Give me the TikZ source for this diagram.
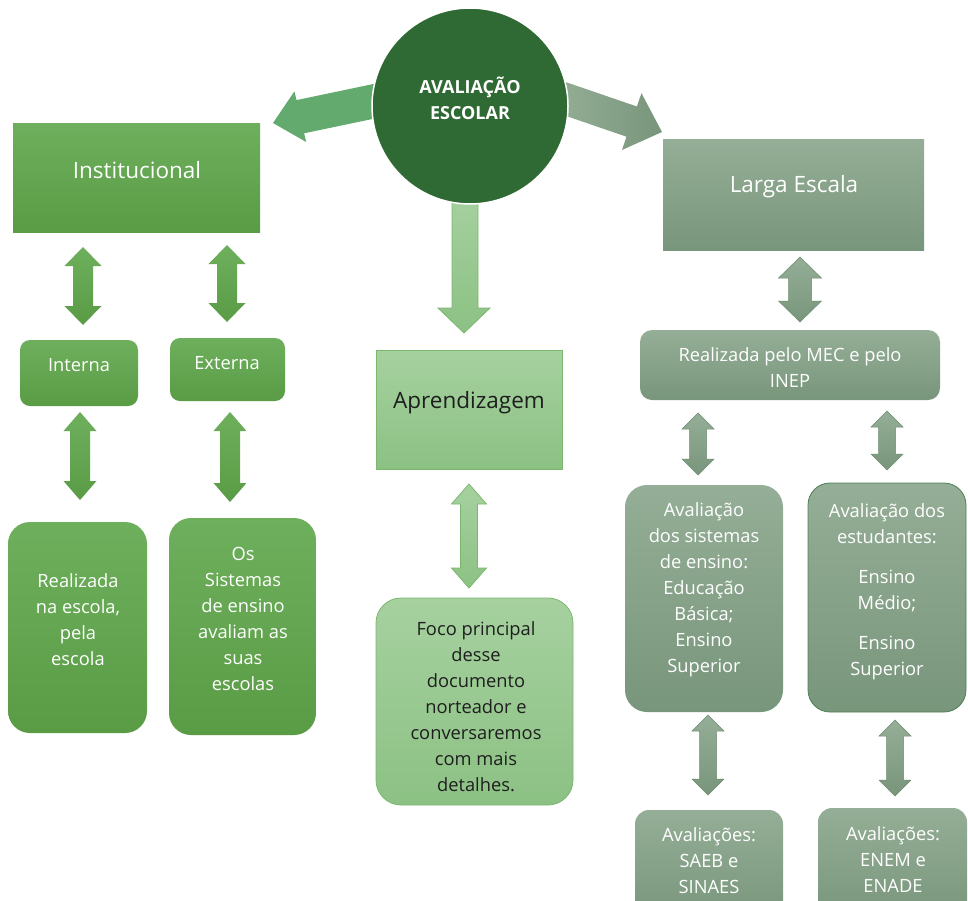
\documentclass[tikz,border=0pt]{standalone}
\usepackage{fontspec}
\setmainfont{Open Sans}
\definecolor{dkgreen}{HTML}{2F6A34}
\definecolor{gtop}{HTML}{6DAF5C}
\definecolor{gbot}{HTML}{5A9C45}
\definecolor{ltop}{HTML}{A6D19F}
\definecolor{lbot}{HTML}{8CC184}
\definecolor{lborder}{HTML}{7BB86E}
\definecolor{stop}{HTML}{95AE97}
\definecolor{sbot}{HTML}{78967B}
\definecolor{sborder}{HTML}{6E8C71}
\definecolor{leftarr}{HTML}{63AA6E}
\definecolor{txtdark}{HTML}{1E1E1E}
\newcommand\vdarrow[7]{%
  \path[#1] (#2,#3) -- (#2+#6,#3+#7) -- (#2+#5,#3+#7) -- (#2+#5,#4-#7) -- (#2+#6,#4-#7)
    -- (#2,#4) -- (#2-#6,#4-#7) -- (#2-#5,#4-#7) -- (#2-#5,#3+#7) -- (#2-#6,#3+#7) -- cycle;}
\begin{document}
\begin{tikzpicture}[x=1pt,y=-1pt,
  body/.style={font=\fontsize{18.3}{26}\selectfont, align=center, inner sep=0pt},
  big/.style={font=\fontsize{22.5}{26}\selectfont, inner sep=0pt},
  gbox/.style={rectangle, top color=gtop, bottom color=gbot, draw=none, inner sep=0pt},
  lbox/.style={rectangle, top color=ltop, bottom color=lbot, draw=lborder, line width=0.8pt, inner sep=0pt},
  sbox/.style={rectangle, top color=stop, bottom color=sbot, draw=none, inner sep=0pt},
  garr/.style={top color=gtop, bottom color=gbot, draw=none},
  sarr/.style={top color=stop, bottom color=sbot, draw=sborder, line width=0.5pt},
  larr/.style={top color=ltop, bottom color=lbot, draw=lborder, line width=0.8pt},
]
\useasboundingbox (0,0) rectangle (968,900);
\clip (0,0) rectangle (968,900);
\fill[white] (0,0) rectangle (968,900);

% big arrows from the circle
\path[fill=leftarr] (383.8,116.6) -- (304.1,133.3) -- (306.2,142.0) -- (273,123)
  -- (294.4,91.4) -- (296.5,100.1) -- (376.2,83.4) -- cycle;
\path[left color=stop, right color=sbot] (554.8,112.1) -- (626.5,136.7) -- (621.95,150.0)
  -- (662,132) -- (641.45,93.2) -- (636.9,106.5) -- (565.2,81.9) -- cycle;
\path[top color=ltop, bottom color=lbot, draw=lborder, line width=0.8pt]
  (452,190) -- (478,190) -- (478,308) -- (490,308) -- (464,333) -- (438,308) -- (452,308) -- cycle;

% central circle
\node[circle, fill=dkgreen, draw=white, line width=1.5pt, minimum size=196pt, inner sep=0pt] (root) at (470,106) {};
\node[font=\bfseries\fontsize{18}{26}\selectfont, text=white, align=center, inner sep=0pt] (roott) at (470,98) {AVALIAÇÃO\\ESCOLAR};

% main boxes
\node[gbox, minimum width=247pt, minimum height=109pt] (inst) at (136.5,177.5) {};
\node[big, text=white] (instt) at (137,170) {Institucional};
\node[sbox, minimum width=261pt, minimum height=111pt] (larga) at (793.5,194.5) {};
\node[big, text=white] (largat) at (794,187) {Larga Escala};
\node[lbox, minimum width=186pt, minimum height=119pt] (apr) at (469,409.5) {};
\node[big, text=txtdark] (aprt) at (469,403) {Aprendizagem};

% left branch
\node[gbox, rounded corners=10pt, minimum width=118pt, minimum height=66pt] (int) at (79,373) {};
\node[body, text=white] (intt) at (79,365) {Interna};
\node[gbox, rounded corners=10pt, minimum width=115pt, minimum height=63pt] (ext) at (227.5,369.5) {};
\node[body, text=white] (extt) at (227,363) {Externa};
\node[gbox, rounded corners=22pt, minimum width=139pt, minimum height=211pt] (rint) at (77.5,627.5) {};
\node[body, text=white] (rintt) at (78,620) {Realizada\\na escola,\\pela\\escola};
\node[gbox, rounded corners=22pt, minimum width=147pt, minimum height=217pt] (rext) at (242.5,626.5) {};
\node[body, text=white] (rextt) at (243,619) {Os\\Sistemas\\de ensino\\avaliam as\\suas\\escolas};

\vdarrow{garr}{83}{247}{325}{10}{18.5}{19}
\vdarrow{garr}{227}{245}{322}{10}{18.5}{19}
\vdarrow{garr}{80}{412}{500}{10}{16.5}{19}
\vdarrow{garr}{230}{412}{502}{10}{16.5}{19}

% middle branch
\vdarrow{larr}{469}{484}{588}{8.5}{17.5}{20}
\node[lbox, rounded corners=25pt, minimum width=197pt, minimum height=207pt] (foco) at (474.5,701.5) {};
\node[body, text=txtdark] (focot) at (476,707) {Foco principal\\desse\\documento\\norteador e\\conversaremos\\com mais\\detalhes.};

% right branch
\vdarrow{sarr}{800}{257}{322}{11.5}{21.5}{21}
\node[sbox, rounded corners=12pt, minimum width=300pt, minimum height=70pt] (mec) at (790,365) {};
\node[body, text=white] (mect) at (790,368) {Realizada pelo MEC e pelo\\INEP};
\vdarrow{sarr}{698}{413}{475}{8.5}{16}{16}
\vdarrow{sarr}{887}{411}{470}{8.5}{16}{16}
\node[sbox, rounded corners=22pt, minimum width=158pt, minimum height=227pt] (asis) at (704,598.5) {};
\node[body, text=white] (asist) at (704,590) {Avaliação\\dos sistemas\\de ensino:\\Educação\\Básica;\\Ensino\\Superior};
\node[sbox, draw=dkgreen!85, line width=0.8pt, rounded corners=22pt, minimum width=158pt, minimum height=229pt] (aest) at (887,597.5) {};
\node[body, text=white] (aestt) at (887,592) {Avaliação dos\\estudantes:\\[14pt]Ensino\\Médio;\\[14pt]Ensino\\Superior};
\vdarrow{sarr}{708}{715}{795}{8.5}{16}{16}
\vdarrow{sarr}{895}{720}{796}{8.5}{16}{16}
\node[sbox, rounded corners=14pt, minimum width=148pt, minimum height=110pt] (saeb) at (709,865) {};
\node[body, text=white] (saebt) at (709,861) {Avaliações:\\SAEB e\\SINAES};
\node[sbox, rounded corners=14pt, minimum width=149pt, minimum height=112pt] (enem) at (892.5,864) {};
\node[body, text=white] (enemt) at (893,860) {Avaliações:\\ENEM e\\ENADE};
\end{tikzpicture}
\end{document}
